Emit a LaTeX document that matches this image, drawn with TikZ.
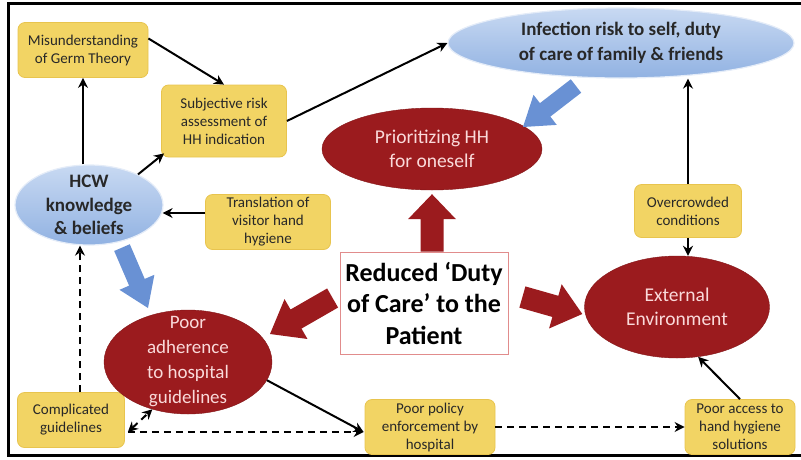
\documentclass[tikz,border=0pt]{standalone}
\usepackage{fontspec}
\setmainfont{Carlito}
\usetikzlibrary{calc,arrows.meta,shapes.geometric}
\definecolor{boxy}{RGB}{242,212,100}
\definecolor{boxe}{RGB}{232,196,78}
\definecolor{dred}{RGB}{155,27,30}
\definecolor{ptext}{RGB}{250,218,218}
\definecolor{bluetop}{RGB}{200,217,242}
\definecolor{bluebot}{RGB}{145,178,226}
\definecolor{barrow}{RGB}{105,145,212}
\definecolor{redline}{RGB}{225,140,140}
\definecolor{txt}{RGB}{40,40,40}
% #1 tail, #2 tip, #3 half shaft, #4 half head, #5 head length, #6 colour
\newcommand{\blockarrow}[6]{%
  \coordinate (bah) at ($(#2)!#5!(#1)$);
  \fill[#6] ($(#1)!#3!90:(#2)$) -- ($(bah)!#3!90:(#2)$) -- ($(bah)!#4!90:(#2)$)
    -- (#2) -- ($(bah)!#4!-90:(#2)$) -- ($(bah)!#3!-90:(#2)$) -- ($(#1)!#3!-90:(#2)$) -- cycle;}
\begin{document}
\begin{tikzpicture}[x=1pt,y=-1pt,
  box/.style={draw=boxe, line width=0.8pt, fill=boxy, rounded corners=7pt, align=center,
    inner sep=0pt, font=\fontsize{15}{18}\selectfont, text=txt},
  redell/.style={ellipse, fill=dred, draw=dred!85!black, inner sep=0pt},
  blueell/.style={ellipse, top color=bluetop, bottom color=bluebot, draw=bluetop!50!white,
    line width=1.2pt, inner sep=0pt},
  redlab/.style={align=center, text=ptext, font=\fontsize{19.5}{24.5}\selectfont},
  bluelab/.style={align=center, text=txt, font=\bfseries\fontsize{19}{24}\selectfont},
  conn/.style={line width=2pt, -{Stealth[length=10pt,width=10pt]}},
  dconn/.style={conn, dash pattern=on 7pt off 5pt},
]
\useasboundingbox (0,0) rectangle (801,459);
\draw[line width=3pt] (801,3) -- (8,3) -- (8,455) -- (801,455);

% boxes
\node[box, minimum width=130, minimum height=55] (germ) at (83,50) {Misunderstanding\\of Germ Theory};
\node[box, minimum width=125, minimum height=72] (subj) at (224,121) {Subjective risk\\assessment of\\HH indication};
\node[box, minimum width=125, minimum height=55] (trans) at (268,222) {Translation of\\visitor hand\\hygiene};
\node[box, minimum width=107, minimum height=53] (crowd) at (688,211) {Overcrowded\\conditions};
\node[box, minimum width=107, minimum height=55] (compl) at (71,420) {Complicated\\guidelines};
\node[box, minimum width=130, minimum height=55] (policy) at (430,427) {Poor policy\\enforcement by\\hospital};
\node[box, minimum width=110, minimum height=55] (access) at (740,427) {Poor access to\\hand hygiene\\solutions};

\node[draw=redline, fill=white, line width=0.8pt, minimum width=168, minimum height=102,
  inner sep=0pt, align=center, text=black, font=\bfseries\fontsize{26}{31.5}\selectfont]
  (reduced) at (424,303) {Reduced ‘Duty\\of Care’ to the\\Patient};

% ellipses
\node[blueell, minimum width=346, minimum height=70,
  label={[bluelab, font=\bfseries\fontsize{19}{25}\selectfont]center:{Infection risk to self, duty\\of care of family \& friends}}]
  (inf) at (621,43) {};
\node[blueell, minimum width=148, minimum height=80,
  label={[bluelab, font=\bfseries\fontsize{19}{23.5}\selectfont]center:{HCW\\knowledge\\\& beliefs}}]
  (hcw) at (89,205) {};
\node[redell, minimum width=220, minimum height=82,
  label={[redlab]center:{Prioritizing HH\\for oneself}}] (prior) at (432,149) {};
\node[redell, minimum width=185, minimum height=102,
  label={[redlab]center:{External\\Environment}}] (ext) at (677,307) {};
\node[redell, minimum width=168, minimum height=104,
  label={[redlab, font=\fontsize{19}{25}\selectfont]center:{Poor\\adherence\\to hospital\\guidelines}}] (adh) at (188,362) {};

% connectors
\draw[conn] (hcw.north -| germ.south) -- (germ.south);
\draw[conn] (germ.10) -- (subj.north);
\draw[conn] (hcw.32) -- ($(subj.south west)+(3,-4)$);
\draw[conn] (subj.east) -- (inf.west);
\draw[conn] ($(trans.west)+(0,-9)$) -- ($(hcw.east)+(-1,8)$);
\draw[conn] (crowd.north) -- (crowd.north |- inf.south);
\draw[conn] (crowd.south) -- (crowd.south |- ext.north);
\draw[conn] (access.north) -- (ext.-67);
\draw[conn] (adh.-13) -- ($(policy.west)+(-1,5)$);
\coordinate (cu) at ($(compl.north)+(9,0)$);
\draw[dconn] (cu) -- (cu |- hcw.south);
\draw[dconn] ($(compl.east)+(3,12)$) -- ($(policy.west)+(-1,5)$);
\draw[dconn, {Stealth[length=10pt,width=10pt]}-{Stealth[length=10pt,width=10pt]}] ($(compl.east)+(3,12)$) -- (adh.-127);
\draw[dconn] (policy.east) -- (access.west);

% block arrows
\coordinate (ua) at ($(reduced.north)+(8,0)$);
\coordinate (ub) at ($(prior.south)+(0,4)$);
\blockarrow{ua}{ub}{11.5pt}{24pt}{25pt}{dred}
\coordinate (la) at ($(reduced.west)+(-7,-5)$);
\coordinate (lb) at (270,334);
\blockarrow{la}{lb}{11pt}{23pt}{30pt}{dred}
\coordinate (ra) at ($(reduced.east)+(14,-6)$);
\coordinate (rb) at ($(ext.west)+(-2,7)$);
\blockarrow{ra}{rb}{11pt}{23pt}{28pt}{dred}
\coordinate (ba) at (576,86);
\coordinate (bb) at (523,127);
\blockarrow{ba}{bb}{8.5pt}{19pt}{28pt}{barrow}
\coordinate (ca) at ($(hcw.south)+(33,2)$);
\coordinate (cb) at (148,308);
\blockarrow{ca}{cb}{8.5pt}{19pt}{28pt}{barrow}
\end{tikzpicture}
\end{document}
